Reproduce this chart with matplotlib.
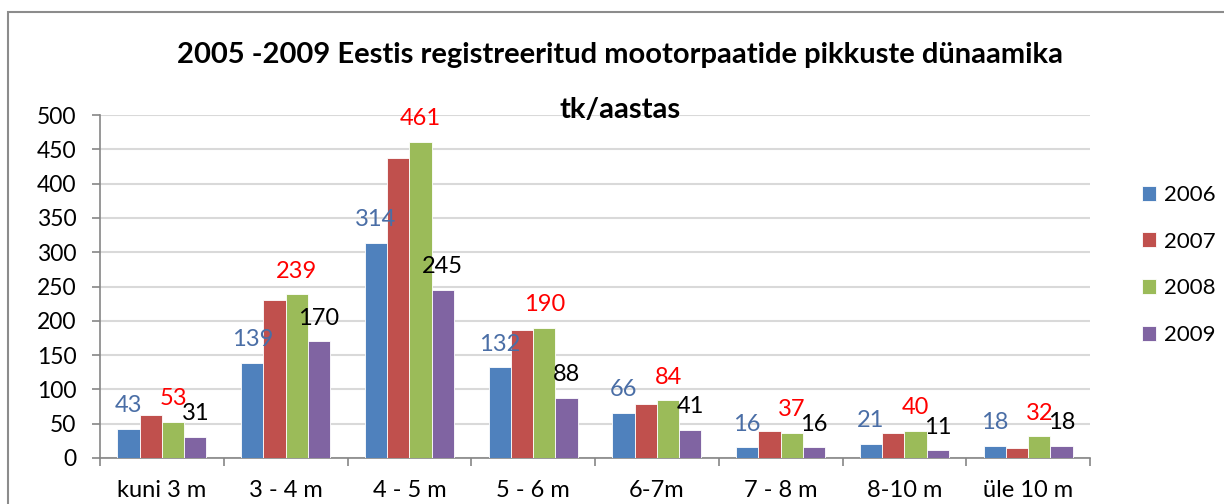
import matplotlib.pyplot as plt
import numpy as np
from matplotlib.patches import Rectangle

categories = ["kuni 3 m", "3 - 4 m", "4 - 5 m", "5 - 6 m", "6-7m", "7 - 8 m", "8-10 m", "üle 10 m"]
years = ["2006", "2007", "2008", "2009"]
v2006 = [43, 139, 314, 132, 66, 16, 21, 18]
v2007 = [63, 230, 437, 187, 79, 40, 36, 15]
v2008 = [53, 239, 461, 190, 84, 37, 40, 32]
v2009 = [31, 170, 245, 88, 41, 16, 11, 18]

colors = ["#4F81BD", "#C0504D", "#9BBB59", "#8064A2"]

plt.rcParams['font.family'] = ['Lato', 'DejaVu Sans']

fig = plt.figure(figsize=(12.24, 5.04), dpi=100)
ax = fig.add_axes([100 / 1224, 1 - 458 / 504, 990 / 1224, 343 / 504])

# outer frame
fig.patches.append(Rectangle((8 / 1224, -0.05), 1.2, 1 - 12 / 504 + 0.05,
                             transform=fig.transFigure, fill=False,
                             edgecolor="#8C8C8C", linewidth=1.5))

x = np.arange(len(categories))
w = 0.18
series = [v2006, v2007, v2008, v2009]
bars = []
for i, (vals, c, yr) in enumerate(zip(series, colors, years)):
    b = ax.bar(x + (i - 1.5) * w, vals, w, color=c, edgecolor="white",
               linewidth=0.6, label=yr, zorder=3)
    bars.append(b)

# data labels: 2006 blue, 2008 red, 2009 black
for b, vals, col in [(bars[0], v2006, "#4A6EA6"), (bars[2], v2008, "#FF0000"), (bars[3], v2009, "black")]:
    for rect, v in zip(b, vals):
        ax.annotate(str(v), (rect.get_x() + rect.get_width() / 2, v),
                    xytext=(0, 9), textcoords="offset points",
                    ha="center", va="bottom", fontsize=17, color=col)

ax.set_ylim(0, 500)
ax.set_yticks(range(0, 501, 50))
ax.set_xlim(-0.5, len(categories) - 0.5)
ax.set_xticks(x)
ax.set_xticklabels(categories, fontsize=17)
ax.set_xticks(np.arange(-0.5, len(categories)), minor=True)
ax.tick_params(axis="x", which="major", length=0, pad=16)
ax.tick_params(axis="x", which="minor", length=6, color="#868686", width=1.2)
ax.tick_params(axis="y", labelsize=16.5, length=6, color="#868686", width=1.2, pad=11)
ax.yaxis.grid(True, color="#D9D9D9", linewidth=1.5, zorder=0)
ax.set_axisbelow(True)
for s in ["top", "right"]:
    ax.spines[s].set_visible(False)
for s in ["left", "bottom"]:
    ax.spines[s].set_color("#868686")
    ax.spines[s].set_linewidth(1.2)

fig.text(620 / 1224, 1 - 55 / 504, "2005 -2009 Eestis registreeritud mootorpaatide pikkuste dünaamika",
         ha="center", va="center", fontsize=21, fontweight="bold")
fig.text(620 / 1224, 1 - 110 / 504, "tk/aastas",
         ha="center", va="center", fontsize=21, fontweight="bold")

ax.legend(loc="upper left", bbox_to_anchor=(1133 / 1224, 1 - 176 / 504),
          bbox_transform=fig.transFigure, frameon=False, fontsize=16,
          handlelength=0.65, handleheight=0.65, handletextpad=0.35,
          labelspacing=1.2, borderaxespad=0)

fig.savefig("out.png", dpi=100)
